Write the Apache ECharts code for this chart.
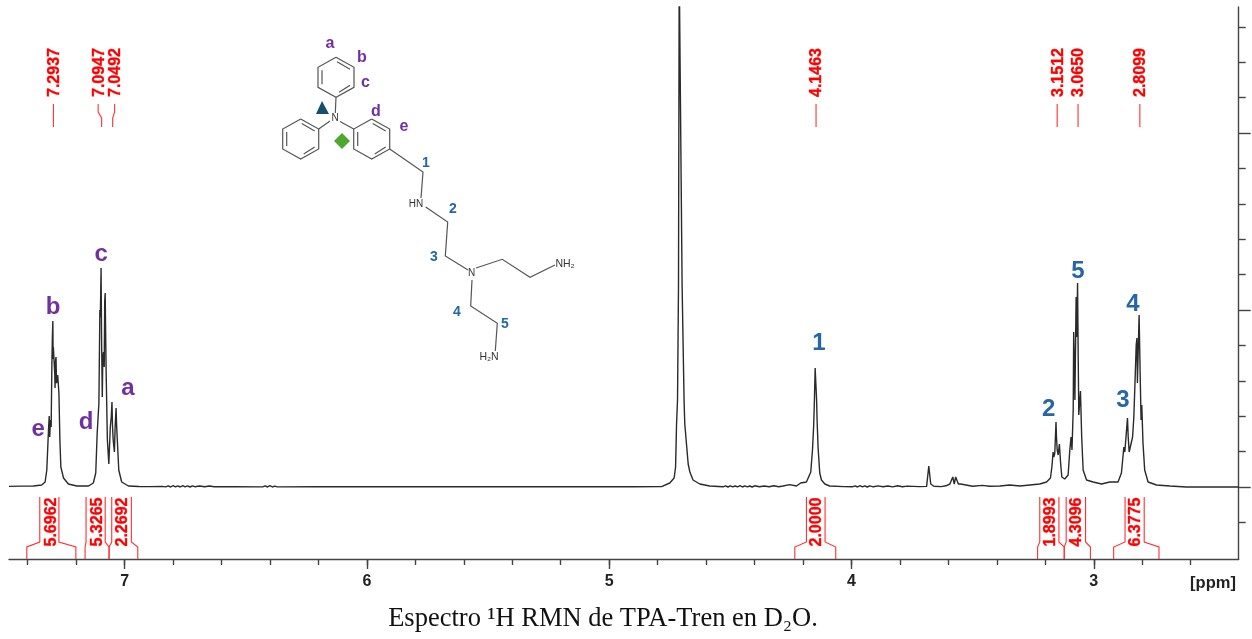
<!DOCTYPE html>
<html>
<head>
<meta charset="utf-8">
<style>html,body{margin:0;padding:0;background:#fff}#c{width:1252px;height:639px}</style>
<script src="https://cdn.jsdelivr.net/npm/echarts@6/dist/echarts.min.js"></script>
</head>
<body>
<div id="c"></div>
<script>
// ---- DATA: spectrum traces as [ppm, intensity] ----
const aromaticTrace = [[7.477,0.6],[7.43,0.9],[7.376,1],[7.342,2],[7.328,5],[7.321,17],[7.314,57],[7.311,71],[7.309,50],[7.306,67],[7.303,60],[7.300,124],[7.298,150],[7.296,166],[7.295,128],[7.294,140],[7.290,142],[7.288,112],[7.287,99],[7.285,126],[7.283,130],[7.281,104],[7.278,107],[7.276,112],[7.271,94],[7.267,47],[7.263,20],[7.252,9],[7.232,3],[7.197,1],[7.149,1],[7.129,4],[7.119,14],[7.113,54],[7.106,84],[7.102,177],[7.100,170],[7.097,219],[7.095,150],[7.092,90],[7.090,128],[7.087,135],[7.084,120],[7.082,186],[7.080,194],[7.078,150],[7.076,114],[7.071,47],[7.065,23],[7.059,60],[7.055,70],[7.052,85],[7.050,62],[7.047,47],[7.042,35],[7.039,60],[7.035,79],[7.033,62],[7.030,47],[7.024,17],[7.012,5],[6.984,1]];
const baselineLeft = [[6.94,0.5],[6.90,0.4],[6.845,0.6],[6.84,1.4],[6.83,0.1],[6.82,1.2],[6.81,0],[6.80,1.3],[6.79,0.1],[6.78,1.2],[6.77,0],[6.76,1.4],[6.75,0.2],[6.74,1.1],[6.73,0],[6.72,1.2],[6.71,0.3],[6.69,1],[6.67,0.2],[6.65,1],[6.63,0.2],[6.55,0.2],[6.43,0.1],[6.42,1.2],[6.41,0],[6.40,1.4],[6.39,0],[6.38,0.9],[6.37,0.1],[6.2,0.2],[6.0,0.2],[5.7,0.2],[5.4,0.3],[5.1,0.3],[4.9,0.3],[4.784,0.4]];
const solventTrace = [[4.750,4],[4.732,9],[4.726,20],[4.722,63],[4.718,87],[4.714,200],[4.711,520],[4.703,520],[4.699,200],[4.691,87],[4.688,63],[4.681,43],[4.674,23],[4.667,15],[4.654,7],[4.626,3],[4.585,1]];
const baselineMid = [[4.53,0.2],[4.52,1.1],[4.51,0],[4.50,1.2],[4.49,0.1],[4.48,1],[4.47,0.2],[4.46,1.3],[4.45,0],[4.44,1.1],[4.43,0.2],[4.42,1],[4.41,0],[4.40,1.2],[4.38,0.2],[4.36,1],[4.34,0.3],[4.32,1.2],[4.30,0.3]];
const methyleneOne = [[4.283,1],[4.255,2.4],[4.227,1],[4.210,4],[4.186,5],[4.168,15],[4.161,37],[4.156,62],[4.153,87],[4.150,119],[4.147,119],[4.144,87],[4.142,67],[4.138,40],[4.131,14],[4.124,7],[4.110,3],[4.090,1]];
const baselineRight = [[4.03,0.4],[3.994,0.3],[3.985,1.2],[3.975,0],[3.965,1.3],[3.955,0.1],[3.945,1.1],[3.935,0],[3.925,1.2],[3.91,0.2],[3.89,1.1],[3.87,0.2],[3.85,1],[3.83,0.1],[3.81,1.2],[3.79,0.2],[3.77,0.9],[3.72,0.4]];
const impurityPeaks = [[3.690,0.6],[3.684,2],[3.681,21],[3.677,21],[3.673,3],[3.660,0.8],[3.63,0.4],[3.61,1.2],[3.594,3],[3.586,3],[3.582,10],[3.576,3],[3.570,10],[3.564,10],[3.559,3],[3.550,3],[3.545,1],[3.50,0.8],[3.46,1.6],[3.43,0.8]];
const aliphaticTrace = [[3.388,1],[3.347,2],[3.305,1],[3.223,3],[3.195,5],[3.179,9],[3.173,20],[3.168,35],[3.165,30],[3.161,34],[3.156,65],[3.154,50],[3.151,37],[3.147,32],[3.142,43],[3.137,24],[3.132,10],[3.120,8],[3.106,12],[3.099,37],[3.094,50],[3.090,37],[3.085,77],[3.083,155],[3.078,87],[3.073,190],[3.070,150],[3.067,204],[3.065,147],[3.062,72],[3.055,96],[3.050,50],[3.044,17],[3.030,7],[3.003,5],[2.968,3],[2.934,5],[2.900,5],[2.886,14],[2.876,40],[2.872,35],[2.861,69],[2.858,50],[2.854,35],[2.846,35],[2.840,50],[2.835,69],[2.831,97],[2.825,142],[2.822,149],[2.820,104],[2.813,172],[2.809,117],[2.805,67],[2.802,82],[2.797,44],[2.790,17],[2.776,5],[2.741,2],[2.686,1],[2.618,0],[2.402,0]];

// Peak pick labels
const peakLabels = ['7.2937','7.0947','7.0492','4.1463','3.1512','3.0650','2.8099'];
const peakPpm = [7.2937,7.0947,7.0492,4.1463,3.1512,3.0650,2.8099];
const peakLabelPpm = [7.2937,7.109,7.041,4.1463,3.1512,3.0650,2.8099];

// Integrals
const integralLabels = ['5.6962','5.3265','2.2692','2.0000','1.8993','4.3096','6.3775'];
const integralFootStart = [7.4035,7.163,7.064,4.234,3.232,3.122,2.918];
const integralFootEnd = [7.201,7.064,6.9455,4.065,3.122,3.014,2.731];
const integralArmStart = [7.350,7.159,7.053,4.186,3.223,3.114,2.871];
const integralArmEnd = [7.271,7.080,6.972,4.109,3.144,3.034,2.792];
const integralLabelPpm = [7.306,7.115,7.012,4.149,3.182,3.074,2.831];

// Assignment letters on the peaks
const assignLetters = ['e','b','d','c','a'];
const assignLetterPpm = [7.357,7.295,7.159,7.097,6.986];
const assignLetterHeight = [59,181,66,234,100];
const assignNumbers = ['1','2','3','4','5'];
const assignNumberPpm = [4.134,3.186,2.880,2.839,3.066];
const assignNumberHeight = [145,79,88,184,217];

// Axis values
const xMinorTicks = [7.4,7.2,7.0,6.8,6.6,6.4,6.2,6.0,5.8,5.6,5.4,5.2,5.0,4.8,4.6,4.4,4.2,4.0,3.8,3.6,3.4,3.2,3.0,2.8,2.6];
const xMajorTicks = [7,6,5,4,3];
const yMinorTicks = [-35.4,35.4,70.8,106.2,141.6,212.4,247.8,283.2,318.6,389.4,424.8,460.2];
const yMajorTicks = [0,177,354];

// ---- LAYOUT / STYLE ----
const RED = '#ff0000', AXIS = '#444', SANS = '"Liberation Sans", Arial, sans-serif';
const PURPLE = '#7030a0', BLUE = '#2566a8';
const PEAK_BASE = 360, PEAK_KNEE1 = 369, PEAK_KNEE2 = 375, PEAK_TOP = 383, PEAK_TEXT = 414.5;
const INT_TOP = -10, INT_SHOULDER = -55, INT_KNEE = -60, INT_BOTTOM = -72, INT_TEXT = -35;

function redLine(points){
  return {type:'polyline',shape:{points},silent:true,style:{fill:null,stroke:'#ff3030',lineWidth:1.1}};
}
function redText(x,y,text){
  return {type:'text',x:x+1,y,rotation:Math.PI/2,originX:0,originY:0,silent:true,
    style:{text,x:0,y:0,align:'center',verticalAlign:'middle',fill:RED,stroke:RED,lineWidth:0.35,font:'bold 16px '+SANS}};
}

const peakRender = (params,api)=>{
  const i = params.dataIndex, px = peakPpm[i], lx = peakLabelPpm[i];
  const c = (x,y)=>api.coord([x,y]);
  return {type:'group',children:[
    redLine([c(px,PEAK_BASE),c(px,PEAK_KNEE1),c(lx,PEAK_KNEE2),c(lx,PEAK_TOP)]),
    redText(c(lx,0)[0],c(lx,PEAK_TEXT)[1],peakLabels[i])
  ]};
};
const integralRender = (params,api)=>{
  const i = params.dataIndex;
  const c = (x,y)=>api.coord([x,y]);
  return {type:'group',children:[
    redLine([c(integralArmStart[i],INT_TOP),c(integralArmStart[i],INT_SHOULDER),c(integralFootStart[i],INT_KNEE),c(integralFootStart[i],INT_BOTTOM)]),
    redLine([c(integralArmEnd[i],INT_TOP),c(integralArmEnd[i],INT_SHOULDER),c(integralFootEnd[i],INT_KNEE),c(integralFootEnd[i],INT_BOTTOM)]),
    redText(c(integralLabelPpm[i],0)[0],c(0,INT_TEXT)[1],integralLabels[i])
  ]};
};
function assignSeries(labels,ppm,height,color){
  return {type:'custom',clip:false,silent:true,z:6,
    data:labels.map((t,i)=>[ppm[i],height[i]]),
    renderItem:(params,api)=>{
      const p = api.coord([api.value(0),api.value(1)]);
      return {type:'text',x:p[0],y:p[1]+1,silent:true,style:{text:labels[params.dataIndex],align:'center',verticalAlign:'middle',fill:color,font:'bold 24px '+SANS}};
    }};
}

// ---- Molecule sketch (decoration, page pixels) ----
const BOND = '#555';
function bond(points){return {type:'polyline',silent:true,shape:{points},style:{fill:null,stroke:BOND,lineWidth:1.2}};}
function ring(cx,cy){
  const o=[[0,-20],[18,-10],[18,10],[0,20],[-18,10],[-18,-10],[0,-20]].map(p=>[cx+p[0],cy+p[1]]);
  const inner=[[[1,-15.5],[14,-8]],[[-14,-7],[-14,7]],[[3,15],[14,8]]];
  return [bond(o)].concat(inner.map(s=>bond(s.map(p=>[cx+p[0],cy+p[1]]))));
}
function molText(x,y,text,size,color,weight){
  return {type:'text',silent:true,style:{text,x,y,align:'center',verticalAlign:'middle',fill:color,font:(weight||'normal')+' '+size+'px '+SANS}};
}
const molecule = [].concat(
  ring(336,77.3),ring(300.7,139),ring(371.7,139),
  [
    bond([[336,97.3],[335.3,113]]),
    bond([[318.7,129],[330,121]]),
    bond([[340,121.5],[353.7,129]]),
    bond([[389.7,149],[423,172],[421,198]]),
    bond([[425.7,207],[447.7,222],[445.3,256],[468,270]]),
    bond([[476,268],[502.3,259.3],[530,277.3],[555,265]]),
    bond([[472,280],[470.7,306],[497.3,323.3],[495.3,351]]),
    molText(335,118.5,'N',10,'#333'),
    molText(416,204,'HN',10,'#333'),
    molText(471.5,273,'N',10,'#333'),
    molText(565,264,'NH₂',10.5,'#333'),
    molText(489,357,'H₂N',10.5,'#333'),
    molText(330,44,'a',16,PURPLE,'bold'),molText(362,58,'b',16,PURPLE,'bold'),molText(365.5,83,'c',16,PURPLE,'bold'),
    molText(376,112,'d',16,PURPLE,'bold'),molText(404,127,'e',16,PURPLE,'bold'),
    molText(426,163,'1',14,BLUE,'bold'),molText(453,209,'2',14,BLUE,'bold'),molText(434,257,'3',14,BLUE,'bold'),
    molText(457,312,'4',14,BLUE,'bold'),molText(505,324,'5',14,BLUE,'bold'),
    {type:'polygon',silent:true,shape:{points:[[322,101],[329,114],[316,114]]},style:{fill:'#14506e'}},
    {type:'polygon',silent:true,shape:{points:[[342,133],[350,141],[342,149],[334,141]]},style:{fill:'#4ea72e'}},
    {type:'text',silent:true,style:{text:'[ppm]',x:1213,y:583,align:'center',verticalAlign:'middle',fill:'#222',font:'bold 16.5px '+SANS}},
    {type:'text',silent:true,style:{text:'Espectro ¹H RMN de TPA-Tren en D₂O.',x:603,y:619,align:'center',verticalAlign:'middle',fill:'#111',font:'26.5px "Liberation Serif", "Times New Roman", serif'}}
  ]
);

const X_RANGE = {min:2.402,max:7.477,inverse:true};
const Y_RANGE = {min:-72,max:480};
const chart = echarts.init(document.getElementById('c'),null,{renderer:'canvas'});
chart.setOption({
  animation:false,
  backgroundColor:'#fff',
  grid:{left:9,top:7,width:1229.7,height:552,containLabel:false},
  xAxis:[
    Object.assign({type:'value',position:'bottom',splitLine:{show:false},
      axisLine:{show:true,onZero:false,lineStyle:{color:AXIS,width:1.4}},
      axisTick:{show:true,length:6,inside:false,lineStyle:{color:AXIS,width:1.4},customValues:xMinorTicks},
      axisLabel:{show:false}},X_RANGE),
    Object.assign({type:'value',position:'bottom',splitLine:{show:false},axisLine:{show:false,onZero:false},
      axisTick:{show:true,length:10,lineStyle:{color:AXIS,width:1.4},customValues:xMajorTicks},
      axisLabel:{show:true,margin:15,fontFamily:SANS,fontWeight:'bold',fontSize:16,color:'#222',
        customValues:xMajorTicks,formatter:v=>String(v)}},X_RANGE)
  ],
  yAxis:[
    Object.assign({type:'value',position:'right',splitLine:{show:false},
      axisLine:{show:true,onZero:false,lineStyle:{color:AXIS,width:1.4}},
      axisTick:{show:true,length:7,lineStyle:{color:AXIS,width:1.4},customValues:yMinorTicks},
      axisLabel:{show:false}},Y_RANGE),
    Object.assign({type:'value',position:'right',splitLine:{show:false},axisLine:{show:false,onZero:false},
      axisTick:{show:true,length:12,lineStyle:{color:AXIS,width:1.4},customValues:yMajorTicks},
      axisLabel:{show:false}},Y_RANGE)
  ],
  series:[
    {type:'line',name:'1H NMR',showSymbol:false,symbol:'none',sampling:false,clip:true,z:3,silent:true,
      lineStyle:{color:'#2a2a2a',width:1.4},
      data:[].concat(aromaticTrace,baselineLeft,solventTrace,baselineMid,methyleneOne,baselineRight,impurityPeaks,aliphaticTrace)},
    {type:'custom',clip:false,silent:true,z:5,data:peakPpm.map(v=>[v,PEAK_BASE]),renderItem:peakRender},
    {type:'custom',clip:false,silent:true,z:5,data:integralFootStart.map(v=>[v,INT_TOP]),renderItem:integralRender},
    assignSeries(assignLetters,assignLetterPpm,assignLetterHeight,PURPLE),
    assignSeries(assignNumbers,assignNumberPpm,assignNumberHeight,BLUE)
  ],
  graphic:{elements:molecule}
});
</script>
</body>
</html>
